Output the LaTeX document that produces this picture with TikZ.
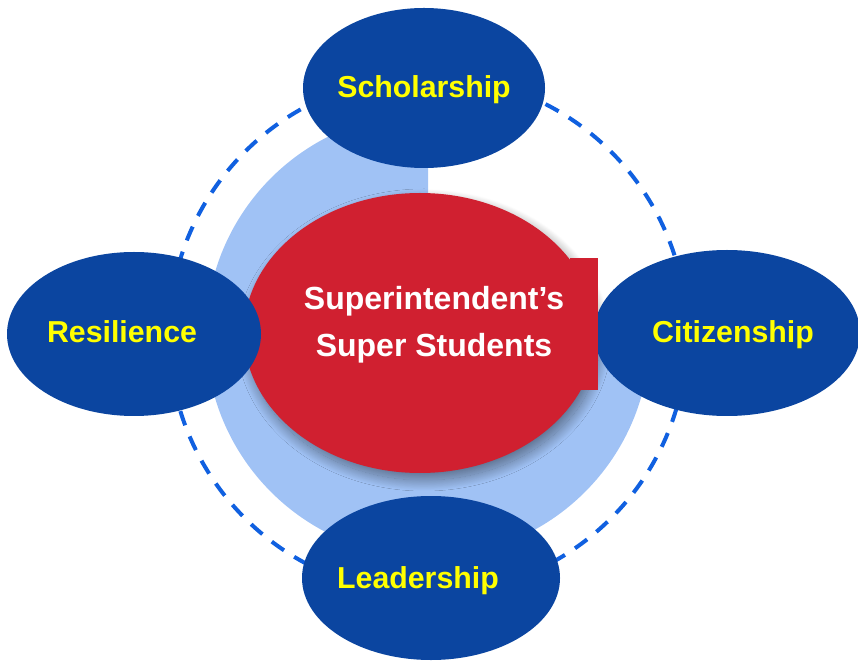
\documentclass[tikz,border=0pt]{standalone}
\usepackage{fontspec}
\setmainfont{Liberation Sans}
\usetikzlibrary{shapes.geometric,shadows.blur}

\definecolor{pillarblue}{RGB}{11,69,160}
\definecolor{ringblue}{RGB}{160,194,245}
\definecolor{hubred}{RGB}{208,32,48}
\definecolor{dashblue}{RGB}{16,96,224}
\definecolor{labelyellow}{RGB}{255,255,0}

\tikzset{
    pillar/.style={ellipse, fill=pillarblue, inner sep=0pt},
    pillarlabel/.style={text=labelyellow, font=\fontsize{30.3}{36}\selectfont\bfseries},
    hublabel/.style={text=white, align=center, font=\fontsize{32}{47}\selectfont\bfseries}
}

\begin{document}
\begin{tikzpicture}[x=1pt, y=1pt]
    \useasboundingbox (0,0) rectangle (858,664);

    % dashed orbit
    \draw [dashblue, line width=4pt, dash pattern=on 15pt off 12pt] (428,329) circle [radius=259];

    % light blue ring, top right quarter left open
    \fill [ringblue] (428,329) -- (428,551) arc [start angle=90, end angle=360, radius=222] -- cycle;

    % centre
    \node [ellipse, fill=hubred, minimum width=352pt, minimum height=280pt, inner sep=0pt,
           blur shadow={shadow xshift=4pt, shadow yshift=-7pt, shadow blur radius=11pt,
                        shadow blur steps=40, shadow opacity=45}]
        (hub) at (420,331) {};

    % the four pillars
    \node [pillar, minimum width=242pt, minimum height=160pt] (scholarship) at (424,576) {};
    \node [pillar, minimum width=254pt, minimum height=164pt] (resilience) at (134,330) {};
    \node [pillar, minimum width=266pt, minimum height=166pt] (citizenship) at (727,331) {};
    \node [pillar, minimum width=258pt, minimum height=164pt] (leadership) at (431,86) {};

    \fill [hubred] (570,274) rectangle (598,406);

    \node [hublabel] (hubtext) at ([xshift=14pt, yshift=8pt]hub.center) {Superintendent’s\\Super Students};

    \node [pillarlabel] at ([yshift=-2pt]scholarship.center) {Scholarship};
    \node [pillarlabel] at ([xshift=-12pt, yshift=2pt]resilience.center) {Resilience};
    \node [pillarlabel] at ([xshift=6pt, yshift=-2pt]citizenship.center) {Citizenship};
    \node [pillarlabel] at ([xshift=-13pt, yshift=-3pt]leadership.center) {Leadership};
\end{tikzpicture}
\end{document}
